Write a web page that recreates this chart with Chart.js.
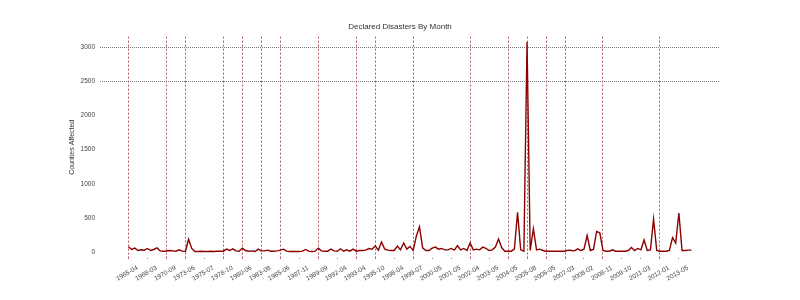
<!DOCTYPE html>
<html>
<head>
<meta charset="utf-8">
<script src="https://cdn.jsdelivr.net/npm/chart.js@4/dist/chart.umd.min.js"></script>
<style>
  html, body { margin: 0; padding: 0; background: #fff; }
  #wrap { width: 800px; height: 300px; }
</style>
</head>
<body>
<div id="wrap"><canvas id="chart" width="800" height="300"></canvas></div>
<script>
"use strict";

// ── Data ──────────────────────────────────────────────────────────────────────
// one tick label every 6 months-with-disasters
const tickLabels = [
  "1965-04", "1968-03", "1970-09", "1973-06", "1975-07", "1978-10",
  "1980-06", "1983-08", "1985-06", "1987-11", "1989-09", "1992-04",
  "1993-04", "1995-10", "1998-04", "1999-07", "2000-05", "2001-05",
  "2002-04", "2003-05", "2004-05", "2005-08", "2006-05", "2007-03",
  "2008-02", "2008-11", "2009-10", "2011-03", "2012-01", "2013-05",
];

// ticks that carry a red dotted marker line
const markedTicks = [
  "1965-04", "1970-09", "1973-06", "1978-10", "1980-06", "1983-08",
  "1985-06", "1989-09", "1993-04", "1995-10", "1999-07", "2002-04",
  "2004-05", "2005-08", "2006-05", "2007-03", "2008-11", "2012-01",
];

const counties = [
  75, 35, 55, 20, 30, 25, 50, 20, 35, 60, 15, 10,
  12, 20, 15, 10, 30, 10, 5, 185, 50, 5, 5, 8,
  5, 5, 8, 5, 10, 8, 10, 40, 20, 45, 15, 10,
  55, 20, 10, 15, 5, 40, 15, 15, 25, 10, 10, 15,
  25, 40, 10, 5, 5, 5, 5, 10, 35, 10, 5, 10,
  55, 15, 10, 10, 40, 15, 10, 45, 10, 30, 10, 40,
  10, 20, 20, 25, 50, 40, 90, 25, 145, 40, 25, 20,
  20, 85, 30, 130, 40, 80, 20, 230, 370, 60, 20, 20,
  55, 70, 40, 50, 30, 30, 50, 25, 90, 30, 50, 20,
  130, 30, 40, 30, 70, 50, 20, 30, 70, 190, 60, 10,
  10, 10, 40, 580, 30, 10, 3080, 20, 340, 30, 40, 20,
  10, 10, 10, 10, 10, 10, 10, 25, 20, 15, 45, 20,
  40, 240, 20, 35, 300, 280, 20, 10, 10, 30, 10, 10,
  10, 10, 20, 65, 20, 50, 30, 175, 20, 30, 480, 20,
  10, 10, 10, 20, 210, 130, 570, 20, 20, 25, 25,
];

const yTicks = [0, 500, 1000, 1500, 2000, 2500, 3000];
const yGridShown = [2500, 3000];

const TICK_EVERY = 6;

// ── Chart ─────────────────────────────────────────────────────────────────────
const FONT = "'Liberation Sans', Arial, sans-serif";
Chart.defaults.font.family = FONT;
Chart.defaults.color = "#444";

const points = counties.map((v, i) => ({ x: i, y: v }));

new Chart(document.getElementById("chart"), {
  type: "line",
  data: {
    datasets: [{
      label: "Counties Affected",
      data: points,
      borderColor: "#8b0000",
      borderWidth: 1.4,
      pointRadius: 0,
      tension: 0,
      fill: false,
    }],
  },
  options: {
    responsive: false,
    animation: false,
    layout: { padding: { left: 80, right: 80, top: 0, bottom: 0 } },
    plugins: {
      legend: { display: false },
      tooltip: { enabled: false },
      title: {
        display: true,
        text: "Declared Disasters By Month",
        color: "#333",
        font: { size: 8, weight: "normal" },
        padding: { top: 22, bottom: 5 },
      },
    },
    scales: {
      x: {
        type: "linear",
        min: -9,
        max: counties.length - 1 + 9,
        border: { display: false, dash: [2, 2] },
        afterBuildTicks: s => {
          s.ticks = tickLabels.map((_, i) => ({ value: i * TICK_EVERY }));
        },
        afterFit: s => { s.height = 42; },
        ticks: {
          autoSkip: false,
          minRotation: 30,
          maxRotation: 30,
          padding: 1,
          labelOffset: 9,
          color: "#444",
          font: { size: 6.5 },
          callback: v => tickLabels[v / TICK_EVERY],
        },
        grid: {
          drawTicks: true,
          tickLength: 5,
          color: ctx => {
            const lbl = tickLabels[ctx.index];
            return markedTicks.includes(lbl) ? "rgba(170,60,60,0.85)" : "rgba(0,0,0,0)";
          },
          tickColor: "rgba(180,60,60,0.8)",
          lineWidth: 1,
          tickBorderDash: [1, 4],
        },
      },
      y: {
        min: -90,
        max: 3160,
        border: { display: false, dash: [1, 1] },
        afterBuildTicks: s => {
          s.ticks = yTicks.map(v => ({ value: v }));
        },
        afterFit: s => { s.width = 20; },
        title: {
          display: true,
          text: "Counties Affected",
          color: "#333",
          font: { size: 7 },
          padding: { top: -12, bottom: 0 },
        },
        ticks: {
          color: "#444",
          font: { size: 6.5 },
          padding: 5,
          callback: v => String(v),
        },
        grid: {
          drawTicks: false,
          color: ctx => yGridShown.includes(ctx.tick.value) ? "#777" : "rgba(0,0,0,0)",
          lineWidth: 1,
        },
      },
    },
  },
});
</script>
</body>
</html>
